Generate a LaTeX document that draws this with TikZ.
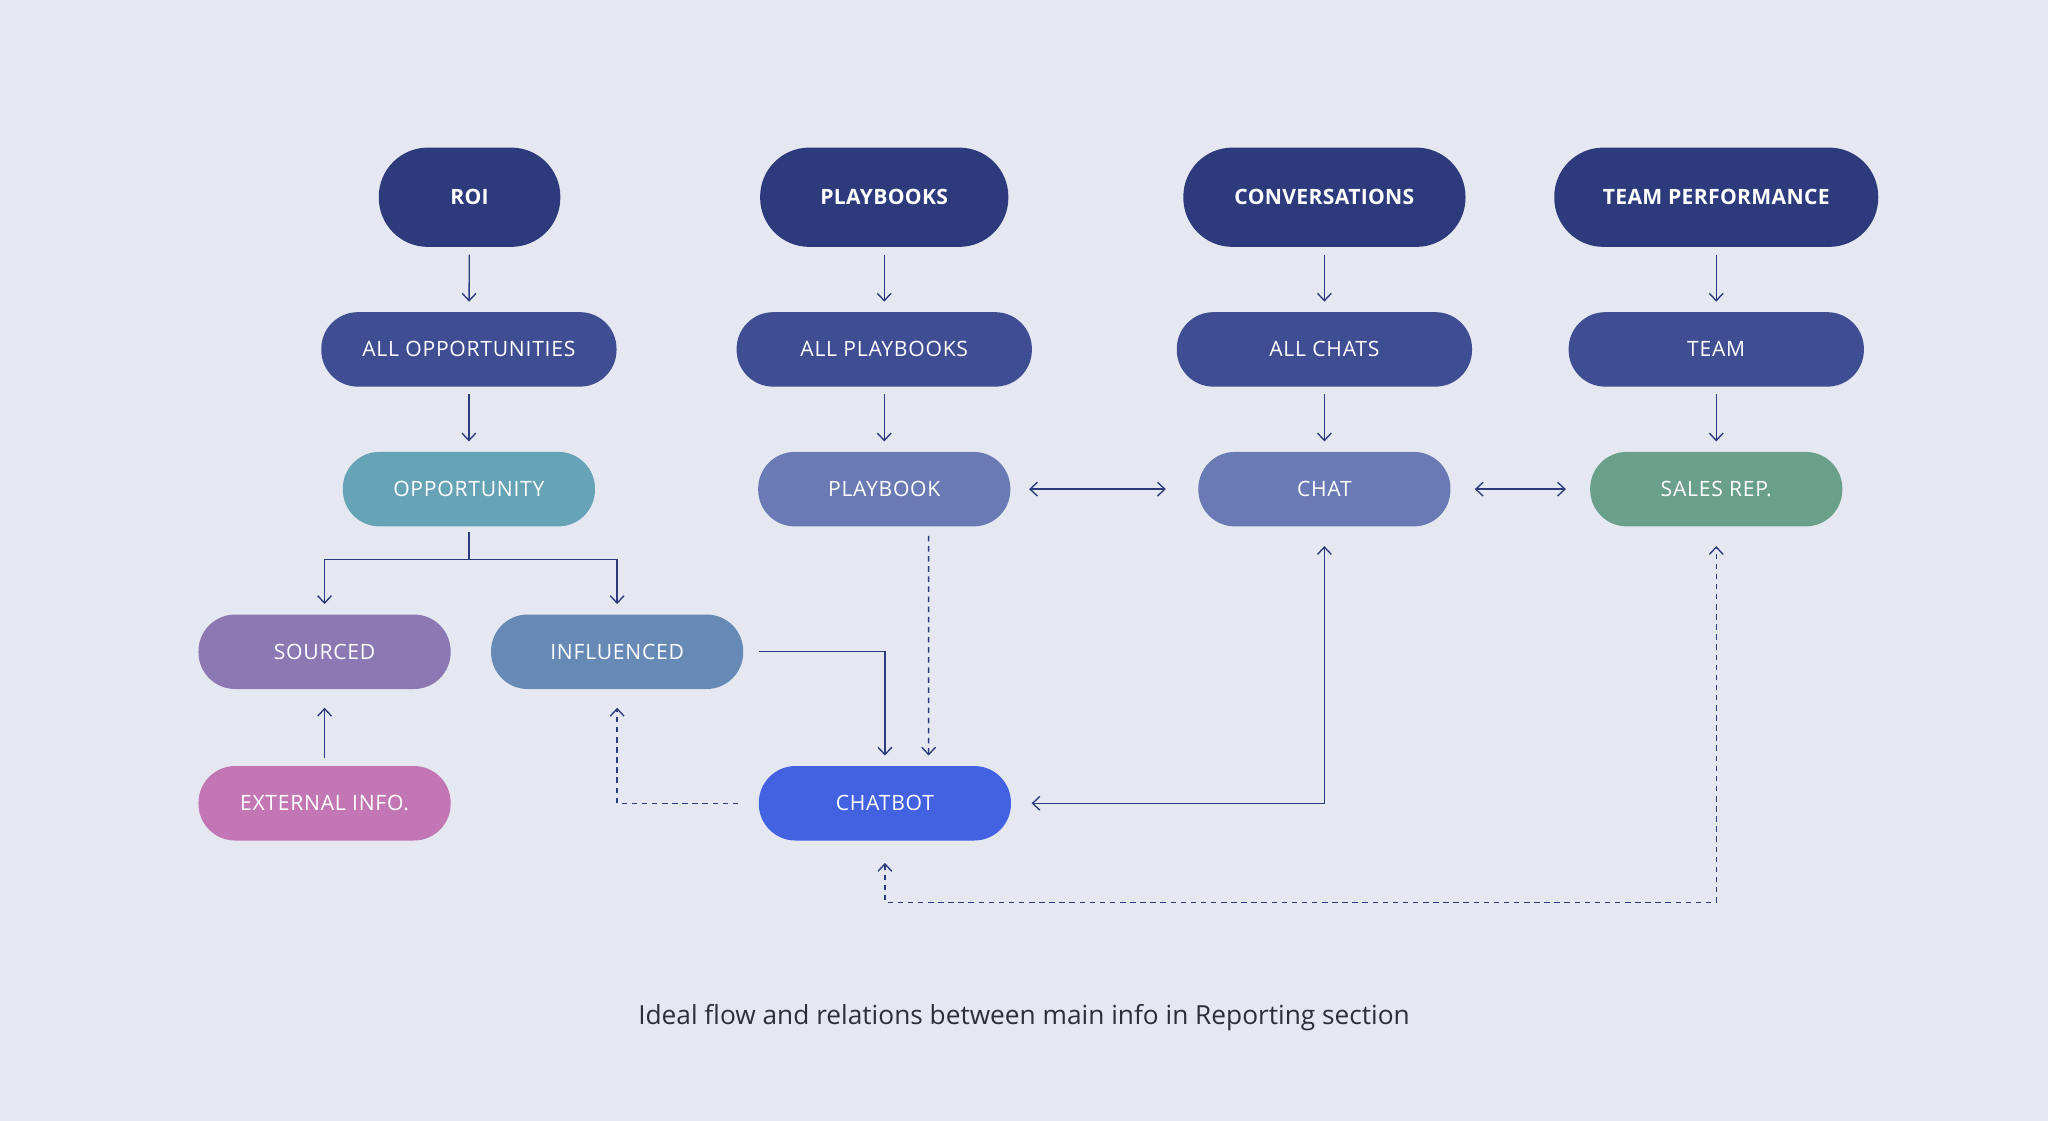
\documentclass[tikz,border=0pt]{standalone}
\usepackage{fontspec}
\setmainfont{Open Sans}
\newfontfamily\pillfont{Open Sans}[LetterSpace=3.5]
\newfontfamily\headfont{Open Sans}[LetterSpace=1.5]
\usetikzlibrary{arrows.meta,calc}

\definecolor{bgcol}{HTML}{E5E8F0}
\definecolor{linecol}{HTML}{2D3B7C}
\definecolor{headblue}{HTML}{2D3B7C}
\definecolor{listblue}{HTML}{3F4D93}
\definecolor{oppcol}{HTML}{67A3B7}
\definecolor{itemcol}{HTML}{6A7AB5}
\definecolor{salescol}{HTML}{6A9F8A}
\definecolor{sourcecol}{HTML}{8C78B3}
\definecolor{inflcol}{HTML}{6789B6}
\definecolor{extcol}{HTML}{C277B4}
\definecolor{botcol}{HTML}{4262E2}
\definecolor{captcol}{HTML}{2C2F3A}

\tikzset{
  pill/.style={rectangle, rounded corners=0.7cm, minimum height=1.425cm,
    minimum width=4.825cm, inner sep=0pt, text=white,
    font=\pillfont\fontsize{11.5}{13}\selectfont},
  headpill/.style={pill, rounded corners=0.94cm, minimum height=1.9cm,
    fill=headblue, font=\headfont\bfseries\fontsize{11.5}{13}\selectfont},
  listpill/.style={pill, minimum width=5.65cm, fill=listblue},
  link/.style={draw=linecol, line width=0.75pt,
    -{Straight Barb[length=4pt,width=7.5pt]},
    shorten <=4pt, shorten >=5.5pt},
  dashlink/.style={link, dash pattern=on 3pt off 2.5pt},
}

\begin{document}
\begin{tikzpicture}[x=0.025cm, y=-0.025cm]
  \fill[bgcol] (0,0) rectangle (1568,858);
  \useasboundingbox (0,0) rectangle (1568,858);

  % top row
  \node[headpill, minimum width=3.475cm] (roi) at (359.5,151) {ROI};
  \node[headpill, minimum width=4.75cm] (books) at (677,151) {PLAYBOOKS};
  \node[headpill, minimum width=5.4cm] (convs) at (1014,151) {CONVERSATIONS};
  \node[headpill, minimum width=6.2cm] (perf) at (1314,151) {TEAM PERFORMANCE};

  % lists
  \node[listpill] (allopp) at (359,267.5) {ALL OPPORTUNITIES};
  \node[listpill] (allbooks) at (677,267.5) {ALL PLAYBOOKS};
  \node[listpill] (allchats) at (1014,267.5) {ALL CHATS};
  \node[listpill] (team) at (1314,267.5) {TEAM};

  % single items
  \node[pill, fill=oppcol] (opp) at (359,374.5) {OPPORTUNITY};
  \node[pill, fill=itemcol] (book) at (677,374.5) {PLAYBOOK};
  \node[pill, fill=itemcol] (chat) at (1014,374.5) {CHAT};
  \node[pill, fill=salescol] (sales) at (1314,374.5) {SALES REP.};

  \node[pill, fill=sourcecol] (sourced) at (248.5,499) {SOURCED};
  \node[pill, fill=inflcol] (infl) at (472.5,499) {INFLUENCED};
  \node[pill, fill=extcol] (ext) at (248.5,615) {EXTERNAL INFO.};
  \node[pill, fill=botcol] (bot) at (677.5,615) {CHATBOT};

  \node[text=captcol, font=\fontsize{14.3}{16}\selectfont] (caption) at (784,779)
    {Ideal flow and relations between main info in Reporting section};

  % downward links
  \draw[link] (roi) -- (allopp);
  \draw[link] (books) -- (allbooks);
  \draw[link] (convs) -- (allchats);
  \draw[link] (perf) -- (team);
  \draw[link] (allopp) -- (opp);
  \draw[link] (allbooks) -- (book);
  \draw[link] (allchats) -- (chat);
  \draw[link] (team) -- (sales);

  % opportunity split
  \coordinate (fork) at ($(opp.south)+(0,25)$);
  \draw[draw=linecol, line width=0.75pt, shorten <=3pt] (opp.south) -- (fork);
  \draw[link, shorten <=0pt] (fork) -| (sourced.north);
  \draw[link, shorten <=0pt] (fork) -| (infl.north);
  \draw[link, shorten >=10pt] (ext) -- (sourced);

  % chatbot links
  \draw[link, shorten <=8.5pt] (infl.east) -| (bot.north);
  \draw[dashlink, shorten <=5pt] ($(book.south)+(34,0)$) -- ($(bot.north)+(33.5,0)$);
  \draw[dashlink, shorten <=11pt, shorten >=10pt] (bot.west) -| (infl.south);
  \draw[link, {Straight Barb[length=4pt,width=7.5pt]}-{Straight Barb[length=4pt,width=7.5pt]},
    shorten <=11pt, shorten >=10.5pt] (bot.east) -| (chat.south);
  \draw[dashlink, {Straight Barb[length=4pt,width=7.5pt]}-{Straight Barb[length=4pt,width=7.5pt]},
    shorten <=12pt, shorten >=10.5pt] (bot.south) -- ++(0,47) -| (sales.south);

  % sideways links
  \draw[link, {Straight Barb[length=4pt,width=7.5pt]}-{Straight Barb[length=4pt,width=7.5pt]},
    shorten <=10pt, shorten >=17.5pt] (book) -- (chat);
  \draw[link, {Straight Barb[length=4pt,width=7.5pt]}-{Straight Barb[length=4pt,width=7.5pt]},
    shorten <=13pt, shorten >=13pt] (chat) -- (sales);
\end{tikzpicture}
\end{document}
